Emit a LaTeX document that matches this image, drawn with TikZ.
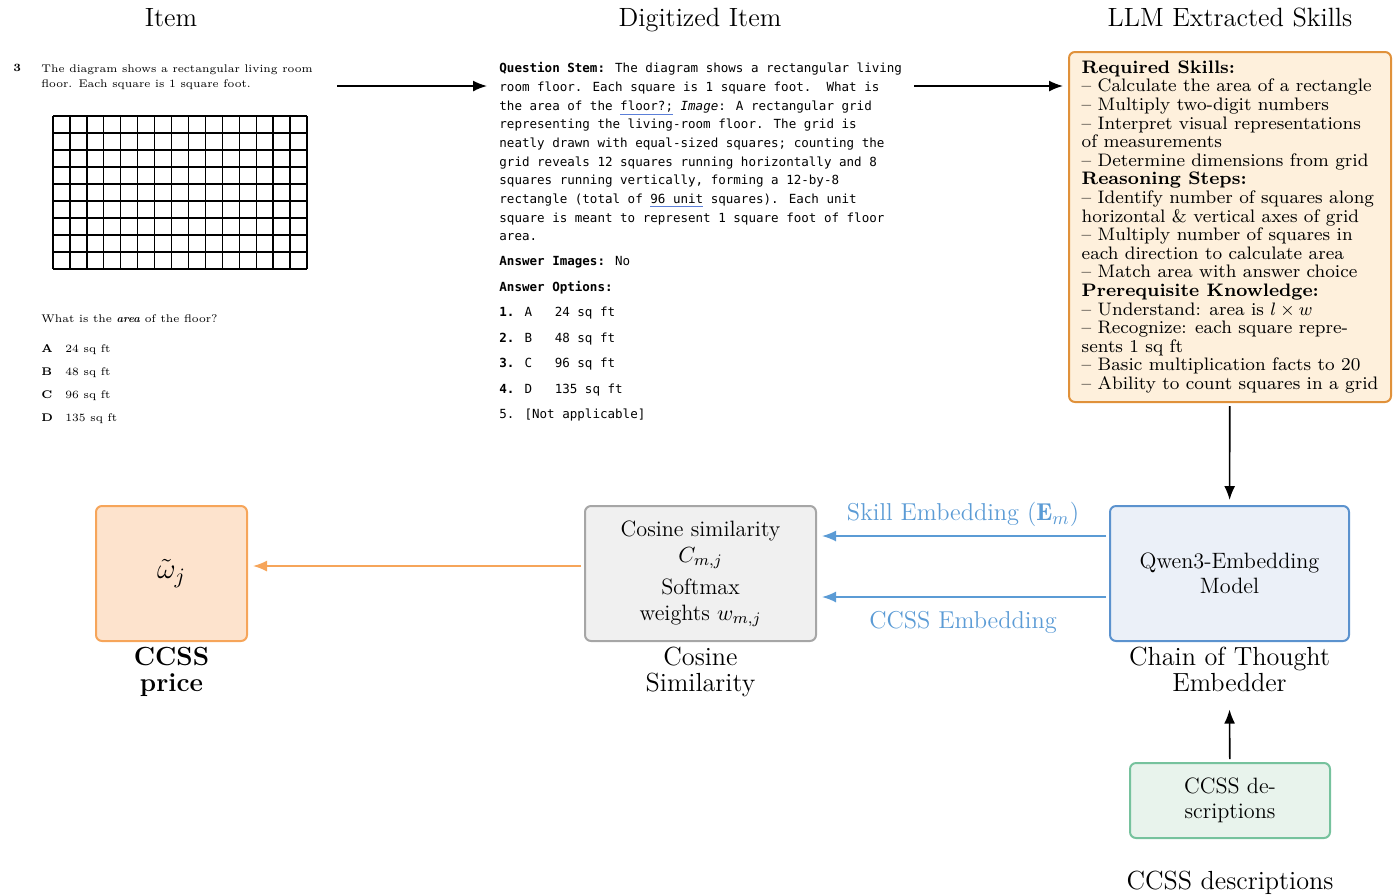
\documentclass[tikz,border=0pt]{standalone}
\usepackage{fontspec}
\newfontfamily\digitfont{DejaVu Sans Mono}
\newfontfamily\skillfont{lmroman8}[Extension=.otf, UprightFont=*-regular, BoldFont=*-bold, ItalicFont=*-italic, Ligatures=TeX]
\usetikzlibrary{arrows.meta,positioning}

\definecolor{skillfill}{HTML}{FEF0DC}
\definecolor{skilldraw}{HTML}{E0913A}
\definecolor{pricefill}{HTML}{FDE3CD}
\definecolor{pricedraw}{HTML}{F6A55A}
\definecolor{cosfill}{HTML}{F0F0F0}
\definecolor{cosdraw}{HTML}{A6A6A6}
\definecolor{qwenfill}{HTML}{EBF0F8}
\definecolor{qwendraw}{HTML}{5B92CE}
\definecolor{descfill}{HTML}{E8F3EC}
\definecolor{descdraw}{HTML}{76C29D}
\definecolor{embblue}{HTML}{5B9BD5}
\definecolor{spellblue}{HTML}{5B7FD8}

\newcommand\spellmark[1]{{\color{spellblue}\underline{\color{black}#1}}}

\tikzset{
	flow/.style={-{Latex[length=7pt,width=5.5pt]}, line width=0.8pt, shorten >=2.5pt, shorten <=1.5pt},
	embed/.style={flow, draw=embblue},
	header/.style={font=\fontsize{13.2}{15}\selectfont, text height=1.4ex, text depth=.3ex},
	caption/.style={font=\fontsize{13.1}{13}\selectfont, align=center, inner sep=0pt},
	itemtext/.style={font=\fontsize{5.55}{7.5}\selectfont, anchor=north west, align=left, inner sep=0pt},
	digittext/.style={font=\digitfont\fontsize{6.27}{9.35}\selectfont, anchor=north west, align=left, inner sep=0pt},
	block/.style={draw, rounded corners=3pt, line width=1pt, align=center, inner sep=0pt,
		minimum height=67.5pt, font=\fontsize{11.1}{13}\selectfont},
	skillbox/.style={block, draw=skilldraw, fill=skillfill, align=left, minimum width=161pt,
		minimum height=175pt, font=\skillfont\fontsize{9.05}{9.3}\selectfont},
	edgelabel/.style={midway, text=embblue, font=\fontsize{12.2}{14}\selectfont},
}

\begin{document}
\begin{tikzpicture}[x=0.5pt,y=-0.5pt]
\useasboundingbox (0,0) rectangle (1400,895);

% column headers
\node[header] (hitem) at (171,22) {Item};
\node[header] (hdigit) at (700,22) {Digitized Item};
\node[header] (hskill) at (1230,22) {LLM Extracted Skills};

% the item as printed
\node[itemtext] (qnum) at (13,64) {\textbf{3}};
\node[itemtext] (qtext) at (41,64) {The diagram shows a rectangular living room\\floor. Each square is 1 square foot.};
\foreach \i in {0,...,15}
	\draw[line width=0.65pt] (53+\i*16.93,116) -- ++(0,153);
\foreach \j in {0,...,9}
	\draw[line width=0.65pt] (53,116+\j*17) -- ++(254,0);
\node[itemtext] (qask) at (41,314) {What is the \textbf{\textit{area}} of the floor?};
\node[itemtext, font=\fontsize{5.55}{11.5}\selectfont] (qopts) at (41,344) {%
	\makebox[12pt][l]{\textbf{A}}24 sq ft\\
	\makebox[12pt][l]{\textbf{B}}48 sq ft\\
	\makebox[12pt][l]{\textbf{C}}96 sq ft\\
	\makebox[12pt][l]{\textbf{D}}135 sq ft};

% digitized item
\node[digittext] (stem) at (499,62) {%
	\textbf{Question Stem:} The diagram shows a rectangular living\\
	room floor. Each square is 1 square foot.\ \ What is\\
	the area of the \spellmark{floor?;} \textit{Image}: A rectangular grid\\
	representing the living-room floor. The grid is\\
	neatly drawn with equal-sized squares; counting the\\
	grid reveals 12 squares running horizontally and 8\\
	squares running vertically, forming a 12-by-8\\
	rectangle (total of \spellmark{96 unit} squares). Each unit\\
	square is meant to represent 1 square foot of floor\\
	area.};
\node[digittext, font=\digitfont\fontsize{6.27}{12.75}\selectfont] (answers) at (499,256) {%
	\textbf{Answer Images:} No\\
	\textbf{Answer Options:}\\
	\textbf{1.} A\ \ \ 24 sq ft\\
	\textbf{2.} B\ \ \ 48 sq ft\\
	\textbf{3.} C\ \ \ 96 sq ft\\
	\textbf{4.} D\ \ \ 135 sq ft\\
	5. [Not applicable]};

% extracted skills
\node[skillbox] (skills) at (1230,227) {%
	\textbf{Required Skills:}\\
	-- Calculate the area of a rectangle\\
	-- Multiply two-digit numbers\\
	-- Interpret visual representations\\
	of measurements\\
	-- Determine dimensions from grid\\
	\textbf{Reasoning Steps:}\\
	-- Identify number of squares along\\
	horizontal \& vertical axes of grid\\
	-- Multiply number of squares in\\
	each direction to calculate area\\
	-- Match area with answer choice\\
	\textbf{Prerequisite Knowledge:}\\
	-- Understand: area is $l\times w$\\
	-- Recognize: each square repre-\\
	sents 1 sq ft\\
	-- Basic multiplication facts to 20\\
	-- Ability to count squares in a grid};

% bottom row
\node[block, draw=pricedraw, fill=pricefill, minimum width=75.5pt] (price) at (171.5,573.5) {\fontsize{15}{15}\selectfont$\tilde{\omega}_j$};
\node[block, draw=cosdraw, fill=cosfill, minimum width=115.5pt] (cos) at (700.5,573.5) {Cosine similarity\\$C_{m,j}$\\[3pt]Softmax\\weights $w_{m,j}$};
\node[block, draw=qwendraw, fill=qwenfill, minimum width=119.5pt, font=\fontsize{11.1}{12.5}\selectfont] (qwen) at (1229.5,573.5) {Qwen3-Embedding\\Model};
\node[block, draw=descdraw, fill=descfill, minimum width=100pt, minimum height=37.5pt, font=\fontsize{11.1}{12.5}\selectfont] (desc) at (1230,800.5) {CCSS de-\\scriptions};

\node[caption, below=2.5pt of price] (pricecap) {\textbf{CCSS}\\\textbf{price}};
\node[caption, below=2.5pt of cos] (coscap) {Cosine\\Similarity};
\node[caption, below=2.5pt of qwen] (qwencap) {Chain of Thought\\Embedder};
\node[caption, below=16pt of desc] (desccap) {CCSS descriptions};

% connectors
\coordinate (itemout) at (334,86);
\coordinate (digitin) at (492,86);
\coordinate (digitout) at (911,86);
\draw[flow] (itemout) -- (digitin);
\draw[flow] (digitout) -- (digitout -| skills.west);
\draw[flow] (skills) -- (qwen);
\draw[embed] (qwen.west |- 0,536) -- node[edgelabel, above, yshift=1pt] (skilllab) {Skill Embedding ($\mathbf{E}_m$)} (cos.east |- 0,536);
\draw[embed] (qwen.west |- 0,597) -- node[edgelabel, below, yshift=-3.5pt] (ccsslab) {CCSS Embedding} (cos.east |- 0,597);
\draw[flow, draw=pricedraw] (cos.west |- 0,566) -- (price.east |- 0,566);
\draw[flow] (desc) -- ([yshift=-6pt]qwencap.south);
\end{tikzpicture}
\end{document}
